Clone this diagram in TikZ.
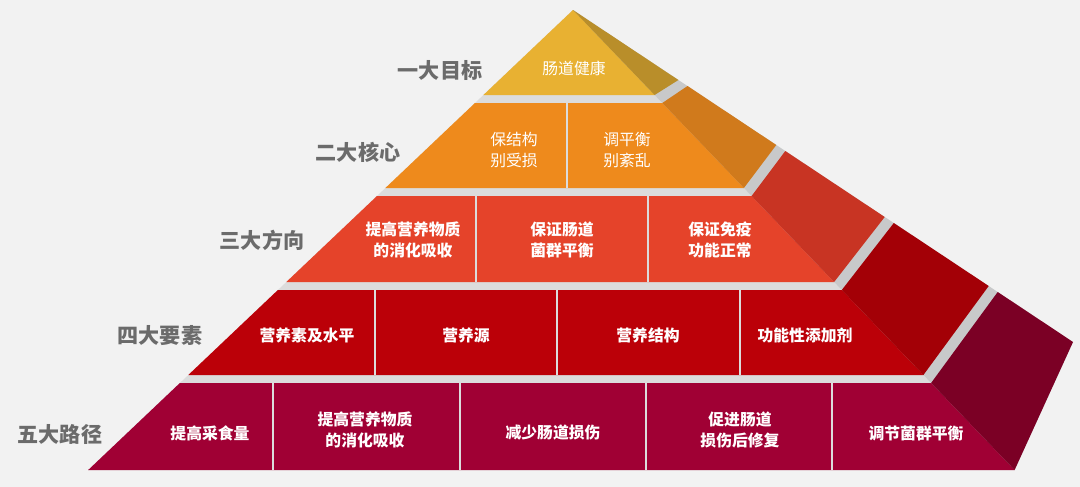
\documentclass[tikz,border=0pt]{standalone}
\usepackage{fontspec}
\newfontfamily\cjk{Noto Sans CJK SC}
\definecolor{bgc}{HTML}{F2F2F2}
\definecolor{bandf}{HTML}{DCDCDC}
\definecolor{bands}{HTML}{C8C9CA}
\definecolor{goldf}{HTML}{E8B132}\definecolor{golds}{HTML}{B98E2A}
\definecolor{orgf}{HTML}{EE8A1C}\definecolor{orgs}{HTML}{D07A1C}
\definecolor{redf}{HTML}{E5432A}\definecolor{reds}{HTML}{C83423}
\definecolor{crmf}{HTML}{BB0008}\definecolor{crms}{HTML}{A30006}
\definecolor{wnef}{HTML}{A00034}\definecolor{wnes}{HTML}{7B0025}
\definecolor{lab}{HTML}{6B6B6B}
\begin{document}
\begin{tikzpicture}[x=0.02cm,y=-0.02cm,
  txt/.style={text=white,align=center,font=\cjk\fontsize{9}{12}\selectfont},
  btxt/.style={txt,font=\cjk\bfseries\fontsize{9}{12}\selectfont},
  lvl/.style={text=lab,font=\cjk\bfseries\fontsize{12}{14}\selectfont},
  sep/.style={draw=bandf,line width=1.2pt}]
\fill[bgc] (0,0) rectangle (1080,487);
\useasboundingbox (0,0) rectangle (1080,487);
% gray bands
\fill[bandf] (573,10) -- (88.2,470) -- (1014.6,470) -- cycle;
\fill[bands] (573,10) -- (1014.6,470) -- (1073,342) -- cycle;
% front layers
\fill[goldf] (573,10) -- (483.4,95) -- (654.6,95) -- cycle;
\fill[orgf] (475,103) -- (385.4,188) -- (743.9,188) -- (662.3,103) -- cycle;
\fill[redf] (377,196) -- (286.3,282) -- (834.1,282) -- (751.6,196) -- cycle;
\fill[crmf] (277.9,290) -- (188.3,375) -- (923.4,375) -- (841.8,290) -- cycle;
\fill[wnef] (179.9,383) -- (88.2,470) -- (1014.6,470) -- (931.1,383) -- cycle;
% side layers
\fill[golds] (573,10) -- (654.6,95) -- (678.4,80) -- cycle;
\fill[orgs] (662.3,103) -- (743.9,188) -- (776.3,145) -- (687.5,86) -- cycle;
\fill[reds] (751.6,196) -- (834.1,282) -- (884.7,217) -- (785.3,151) -- cycle;
\fill[crms] (841.8,290) -- (923.4,375) -- (988.7,286) -- (893.8,223) -- cycle;
\fill[wnes] (931.1,383) -- (1014.6,470) -- (1073,342) -- (997.7,292) -- cycle;
% dividers
\draw[sep] (567,103) -- (567,188);
\foreach \x in {476,648} \draw[sep] (\x,196) -- (\x,282);
\foreach \x in {375,557,740} \draw[sep] (\x,290) -- (\x,375);
\foreach \x in {273,460,646,832} \draw[sep] (\x,383) -- (\x,470);
% texts
\node (goal) at (574,68) [txt] {肠道健康};
\node (core a) at (514,150) [txt] {保结构\\别受损};
\node (core b) at (627,150) [txt] {调平衡\\别紊乱};
\node (dir a) at (413,240) [btxt] {提高营养物质\\的消化吸收};
\node (dir b) at (562,240) [btxt] {保证肠道\\菌群平衡};
\node (dir c) at (720,240) [btxt] {保证免疫\\功能正常};
\node (elem a) at (307,335) [btxt] {营养素及水平};
\node (elem b) at (466,335) [btxt] {营养源};
\node (elem c) at (648,335) [btxt] {营养结构};
\node (elem d) at (805,335) [btxt] {功能性添加剂};
\node (path a) at (210,433) [btxt] {提高采食量};
\node (path b) at (365,430) [btxt] {提高营养物质\\的消化吸收};
\node (path c) at (553,433) [btxt] {减少肠道损伤};
\node (path d) at (740,430) [btxt] {促进肠道\\损伤后修复};
\node (path e) at (916,433) [btxt] {调节菌群平衡};
% level labels
\node (lvl 1) at (440,70) [lvl] {一大目标};
\node (lvl 2) at (358,152) [lvl] {二大核心};
\node (lvl 3) at (262,240) [lvl] {三大方向};
\node (lvl 4) at (160,336) [lvl] {四大要素};
\node (lvl 5) at (60,434) [lvl] {五大路径};
\end{tikzpicture}
\end{document}
